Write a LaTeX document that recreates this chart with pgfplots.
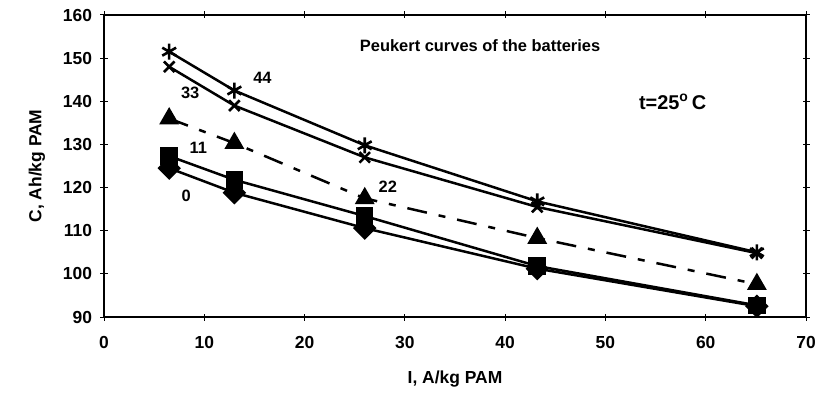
\documentclass[border=0pt]{standalone}
\usepackage{fontspec}
\setmainfont{Liberation Sans}
\usepackage{pgfplots}
\pgfplotsset{compat=1.18}
\begin{document}
\begin{tikzpicture}[x=1bp,y=1bp]
\begin{axis}[
  scale only axis,
  width=702bp, height=302bp,
  xmin=0, xmax=70, ymin=90, ymax=160,
  xtick={0,10,...,70}, ytick={90,100,...,160},
  tick align=center, major tick length=7bp,
  tick style={line width=1bp, black},
  axis line style={line width=2bp},
  every axis plot/.append style={line width=2.5bp, black},
  /pgf/number format/assume math mode=true,
  ticklabel style={font=\fontsize{17.5}{19}\selectfont\bfseries},
  xticklabel style={yshift=-12bp},
  yticklabel style={xshift=-5bp},
  label style={font=\fontsize{17.5}{19}\selectfont\bfseries},
  xlabel={I, A/kg PAM},
  ylabel={C, Ah/kg PAM},
  xlabel style={yshift=-16bp},
  ylabel style={yshift=11bp},
  clip=false,
]
\coordinate (SW) at (rel axis cs:0,0);
\coordinate (NE) at (rel axis cs:1,1);
% 44
\addplot[mark=asterisk, mark size=8bp, mark options={line width=2.6bp}] coordinates {(6.5,151.5) (13,142.5) (26,129.8) (43.2,116.8) (65.1,105)};
% 33
\addplot[mark=x, mark size=7.5bp, mark options={line width=2.6bp}] coordinates {(6.5,148) (13,139) (26,127) (43.2,115.5) (65.1,104.8)};
% 22
\addplot[dash pattern=on 20bp off 12bp on 7bp off 12bp, mark=triangle*, mark size=9bp, mark options={solid}] coordinates {(6.5,136) (13,130.3) (26,117.5) (43.2,108.3) (65.1,97.6)};
% 11
\addplot[mark=square*, mark size=7.5bp, mark options={solid}] coordinates {(6.5,127.3) (13,121.8) (26,113.4) (43.2,101.8) (65.1,92.7)};
% 0
\addplot[mark=square*, mark size=7bp, mark options={solid, rotate=45}] coordinates {(6.5,124.5) (13,118.8) (26,110.6) (43.2,101.2) (65.1,92.5)};
\node[font=\fontsize{16.5}{18}\selectfont\bfseries] at (axis cs:37.5,152.8) {Peukert curves of the batteries};
\node[font=\fontsize{20}{22}\selectfont\bfseries] at (axis cs:56.7,139.9) {t=25\textsuperscript{o}\,C};
\node[font=\fontsize{16.5}{18}\selectfont\bfseries] at (axis cs:15.8,145.5) {44};
\node[font=\fontsize{16.5}{18}\selectfont\bfseries] at (axis cs:8.6,142) {33};
\node[font=\fontsize{16.5}{18}\selectfont\bfseries] at (axis cs:28.3,120.3) {22};
\node[font=\fontsize{16.5}{18}\selectfont\bfseries] at (axis cs:9.4,129.3) {11};
\node[font=\fontsize{16.5}{18}\selectfont\bfseries] at (axis cs:8.2,118) {0};
\end{axis}
\pgfresetboundingbox
\useasboundingbox ([shift={(-104bp,-78bp)}]SW) rectangle ([shift={(17bp,15bp)}]NE);
\end{tikzpicture}
\end{document}
